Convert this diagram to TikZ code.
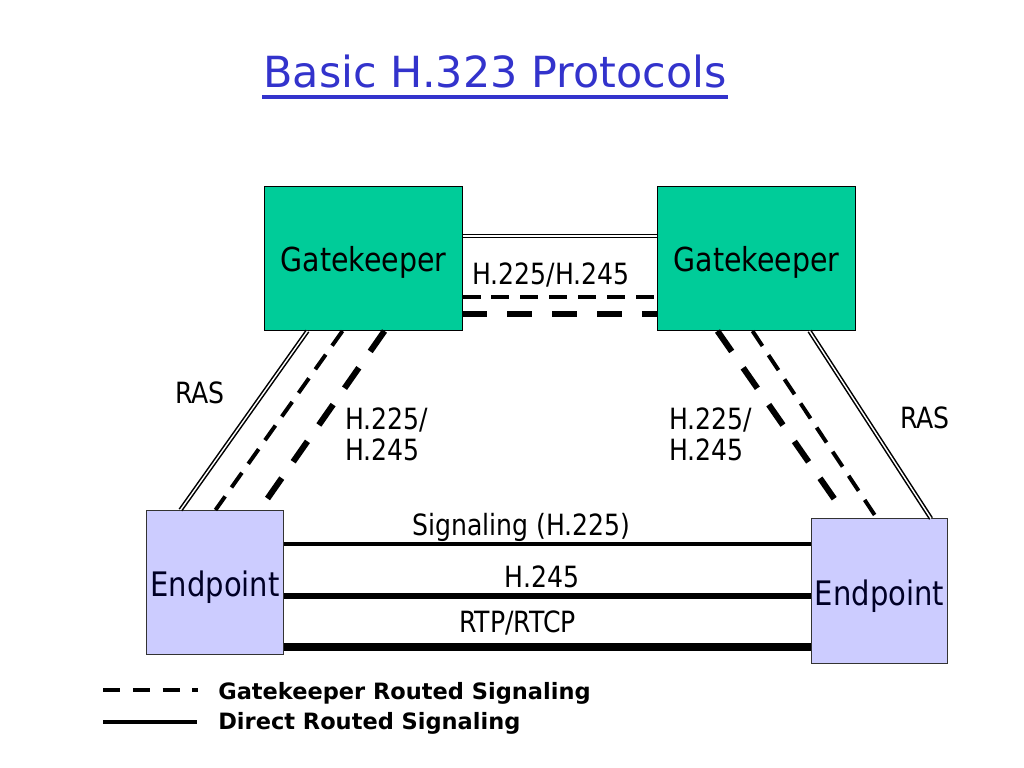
\documentclass[tikz,border=0pt]{standalone}
\usepackage{fontspec}
\setmainfont{DejaVu Sans}[FakeStretch=0.86]
\newfontfamily\plainfont{DejaVu Sans}
\usetikzlibrary{calc}
\definecolor{gkgreen}{RGB}{0,204,153}
\definecolor{eplav}{RGB}{204,204,255}
\definecolor{titleblue}{RGB}{51,51,204}

\begin{document}
\begin{tikzpicture}[x=0.025cm,y=-0.025cm,
    gk/.style={draw=black,line width=0.7pt,fill=gkgreen,minimum width=4.925cm,minimum height=3.6cm,inner sep=0,text height=18.4pt,text depth=0pt,font=\fontsize{23.5}{28}\selectfont},
    ep/.style={draw=black!80,line width=0.7pt,fill=eplav,minimum width=3.4cm,minimum height=3.6cm,inner sep=0,text height=20pt,text depth=0pt,text=black!85!blue,font=\fontsize{24}{28}\selectfont},
    lbl/.style={inner sep=0,font=\fontsize{20.8}{22}\selectfont},
    ras/.style={double,double distance=1pt,line width=1.1pt},
    gkthin/.style={line width=2.8pt,dash pattern=on 12.8pt off 7.8pt},
    gkthick/.style={line width=4.3pt,dash pattern=on 17.7pt off 14.2pt},
  ]
    \useasboundingbox (0,0) rectangle (1024,768);

    \node[anchor=base, inner sep=0, text=titleblue, font=\plainfont\fontsize{30.5}{36}\selectfont] (title) at (495,88) {Basic H.323 Protocols};
    \draw[titleblue, line width=2.6pt] ($(title.base west)+(-1,9)$) -- ($(title.base east)+(1,9)$);

    \node[gk] (gkl) at (363.5,258.5) {Gatekeeper};
    \node[gk] (gkr) at (756.5,258.5) {Gatekeeper};
    \node[ep] (epl) at (215,582.5) {Endpoint};
    \node[ep] (epr) at (879.5,591) {Endpoint};

    \coordinate (t1) at ($(gkl.north east)+(0,50)$);
    \coordinate (t2) at ($(gkl.north east)+(0,111)$);
    \coordinate (t3) at ($(gkl.north east)+(0,128)$);
    \draw[ras] (t1) -- (t1 -| gkr.west);
    \draw[gkthin] (t2) -- (t2 -| gkr.west);
    \draw[gkthick] (t3) -- (t3 -| gkr.west);
    \node[lbl, anchor=base] (lgg) at (551,284) {H.225/H.245};

    \draw[ras] ($(gkl.south west)+(43,0)$) -- ($(epl.north west)+(34,0)$);
    \draw[gkthin] ($(gkl.south west)+(78,0)$) -- ($(epl.north west)+(69,0)$);
    \draw[gkthick] ($(gkl.south west)+(120,0)$) -- ($(epl.north west)+(113,0)$);
    \node[lbl, anchor=base west] (rasl) at (175,403) {RAS};
    \node[lbl, anchor=west, align=left] (lgl) at (345,434) {H.225/\\H.245};

    \draw[gkthick, shorten >=12pt] ($(gkr.south west)+(60,0)$) -- ($(epr.north west)+(37,0)$);
    \draw[gkthin] ($(gkr.south west)+(95,0)$) -- ($(epr.north west)+(66,0)$);
    \draw[ras] ($(gkr.south west)+(152,0)$) -- ($(epr.north west)+(120,0)$);
    \node[lbl, anchor=base west] (rasr) at (900,428) {RAS};
    \node[lbl, anchor=west, align=left] (lgr) at (669,434) {H.225/\\H.245};

    \coordinate (s1) at ($(epl.north east)+(0,34)$);
    \coordinate (s2) at ($(epl.north east)+(0,86)$);
    \coordinate (s3) at ($(epl.north east)+(0,137)$);
    \draw[line width=2.8pt] (s1) -- (s1 -| epr.west);
    \draw[line width=4.3pt] (s2) -- (s2 -| epr.west);
    \draw[line width=5pt] (s3) -- (s3 -| epr.west);
    \node[lbl, anchor=base] (sig) at (521.5,535) {Signaling (H.225)};
    \node[lbl, anchor=base] (h245) at (542,587) {H.245};
    \node[lbl, anchor=base] (rtp) at (517.5,632) {RTP/RTCP};

    \coordinate (k1) at (103,690);
    \coordinate (k2) at (198,690);
    \coordinate (k3) at (103,722);
    \coordinate (k4) at (197,722);
    \draw[line width=2.3pt, dash pattern=on 12pt off 9.2pt] (k1) -- (k2);
    \draw[line width=2.5pt] (k3) -- (k4);
    \node[anchor=base west, inner sep=0, font=\plainfont\bfseries\fontsize{16}{19}\selectfont] (leg1) at (218,699) {Gatekeeper Routed Signaling};
    \node[anchor=base west, inner sep=0, font=\plainfont\bfseries\fontsize{16}{19}\selectfont] (leg2) at (218,729) {Direct Routed Signaling};
\end{tikzpicture}
\end{document}
